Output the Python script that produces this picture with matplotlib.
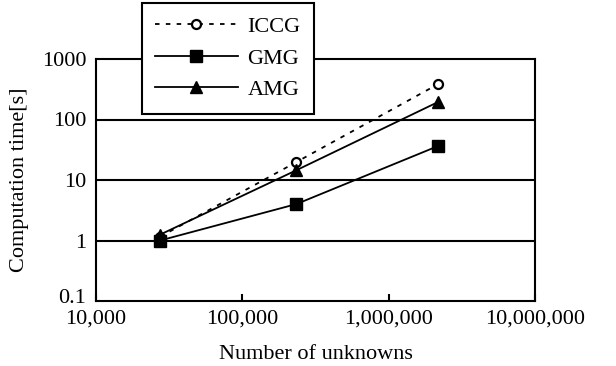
import matplotlib
matplotlib.use("Agg")
import matplotlib.pyplot as plt
import matplotlib.transforms as mtransforms
from matplotlib.ticker import FuncFormatter, FixedLocator, NullLocator

plt.rcParams['font.family'] = ['Liberation Serif', 'DejaVu Serif']

unknowns = [27400, 234000, 2180000]
iccg = [1.15, 19.8, 385]
gmg = [1.0, 4.0, 36.5]
amg = [1.25, 14.5, 195]
labels = ["ICCG", "GMG", "AMG"]

x_ticks = [1e4, 1e5, 1e6, 1e7]
y_ticks = [0.1, 1, 10, 100, 1000]
y_ticklabels = ["0.1", "1", "10", "100", "1000"]

FS = 16

fig = plt.figure(figsize=(6.16, 3.66), dpi=100)
ax = fig.add_axes([96/616, 1-301/366, (535-96)/616, (301-59)/366])

ax.set_xscale('log')
ax.set_yscale('log')
ax.set_xlim(1e4, 1e7)
ax.set_ylim(0.1, 1000)

for yv in [1, 10, 100]:
    ax.axhline(yv, color='black', lw=1.5, zorder=1)

l1, = ax.plot(unknowns, iccg, linestyle=(0, (2.5, 3.5)), color='black', lw=1.3,
              marker='o', markersize=6.5, markerfacecolor='white', markeredgewidth=1.6, zorder=3)
l2, = ax.plot(unknowns, gmg, linestyle='-', color='black', lw=1.3,
              marker='s', markersize=8, zorder=3)
l3, = ax.plot(unknowns, amg, linestyle='-', color='black', lw=1.3,
              marker='^', markersize=9, zorder=3)

ax.xaxis.set_major_locator(FixedLocator(x_ticks))
ax.xaxis.set_minor_locator(NullLocator())
ax.xaxis.set_major_formatter(FuncFormatter(lambda v, p: f"{int(round(v)):,}"))
ax.yaxis.set_major_locator(FixedLocator(y_ticks))
ax.yaxis.set_minor_locator(NullLocator())
ax.set_yticklabels(y_ticklabels)

ax.tick_params(axis='x', direction='in', length=5, width=1.5, labelsize=FS, pad=6)
ax.tick_params(axis='y', direction='in', length=0, labelsize=FS, pad=7)

# nudge the lowest y label up slightly, as in the reference
lbl = ax.get_yticklabels()[0]
lbl.set_transform(lbl.get_transform() + mtransforms.ScaledTranslation(0, 5/100, fig.dpi_scale_trans))

for s in ax.spines.values():
    s.set_linewidth(1.5)
    s.set_color('black')

ax.set_xlabel("Number of unknowns", fontsize=FS, labelpad=12)
ax.set_ylabel("Computation time[s]", fontsize=FS, labelpad=9)

leg = fig.legend([l1, l2, l3], labels, loc='upper left',
                 bbox_to_anchor=(142/616, 1-3/366), bbox_transform=fig.transFigure,
                 borderaxespad=0, frameon=True, fancybox=False, fontsize=FS,
                 handlelength=3.7, handletextpad=0.45, labelspacing=0.5,
                 borderpad=0.6)
leg.get_frame().set_edgecolor('black')
leg.get_frame().set_linewidth(1.5)
leg.get_frame().set_alpha(1)

fig.savefig("out.png", dpi=100)
